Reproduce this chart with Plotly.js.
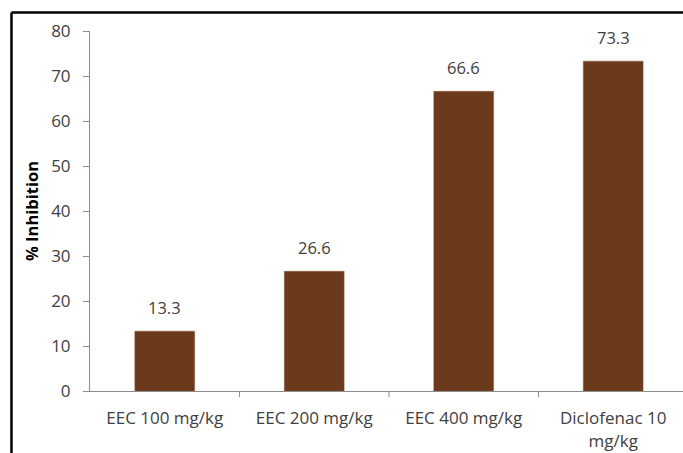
<!DOCTYPE html>
<html>
<head>
<meta charset="utf-8">
<script src="https://cdn.plot.ly/plotly-3.0.1.min.js"></script>
<style>
  html, body { margin: 0; padding: 0; background: #ffffff; }
  #chart { width: 683px; height: 453px; }
</style>
</head>
<body>
<div id="chart"></div>
<script>
// Data
const categories = ["EEC 100 mg/kg", "EEC 200 mg/kg", "EEC 400 mg/kg", "Diclofenac 10<br>mg/kg"];
const inhibition = [13.3, 26.6, 66.6, 73.3];
const valueLabels = ["13.3", "26.6", "66.6", "73.3"];
const yTicks = [0, 10, 20, 30, 40, 50, 60, 70, 80];

const fontFamily = "'Open Sans', 'Liberation Sans', sans-serif";

const trace = {
  type: "bar",
  x: [0, 1, 2, 3],
  y: inhibition,
  marker: {
    color: "#6b3a1c",
    line: { width: 0.5, color: "#8a5a33" }
  },
  hoverinfo: "none"
};

const annotations = inhibition.map((v, i) => ({
  x: i, y: v, xref: "x", yref: "y",
  text: valueLabels[i],
  showarrow: false,
  yanchor: "bottom",
  yshift: 10,
  font: { family: fontFamily, size: 16.5, color: "#404040" }
}));

// Outer frame (left and top edges visible in reference)
const frameColor = "#000000";
const shapes = [
  { type: "line", xref: "paper", yref: "paper", x0: -0.1324, x1: -0.1324, y0: -0.2, y1: 1.0514, line: { color: frameColor, width: 2.5 } },
  { type: "line", xref: "paper", yref: "paper", x0: -0.1324, x1: 1.05, y0: 1.0514, y1: 1.0514, line: { color: frameColor, width: 2.5 } }
];

// category boundary ticks on x axis
[0.5, 1.5, 2.5].forEach(b => {
  shapes.push({ type: "line", xref: "x", yref: "paper", x0: b, x1: b, y0: 0, y1: -0.017, line: { color: "#8c8c8c", width: 1 } });
});

const layout = {
  width: 683,
  height: 453,
  margin: { l: 90, r: 0, t: 31, b: 62 },
  paper_bgcolor: "#ffffff",
  plot_bgcolor: "#ffffff",
  showlegend: false,
  bargap: 0.6,
  xaxis: {
    range: [-0.5, 3.467],
    tickmode: "array",
    tickvals: [0, 1, 2, 3],
    ticktext: categories,
    showgrid: false,
    zeroline: false,
    showline: true,
    linecolor: "#8c8c8c",
    linewidth: 1,
    ticks: "",
    ticklabelstandoff: 12,
    tickfont: { family: fontFamily, size: 17, color: "#404040" }
  },
  yaxis: {
    range: [0, 80],
    tickmode: "array",
    tickvals: yTicks,
    ticktext: yTicks.map(String),
    showgrid: false,
    zeroline: false,
    showline: true,
    linecolor: "#8c8c8c",
    linewidth: 1,
    ticks: "outside",
    ticklen: 6,
    tickcolor: "#8c8c8c",
    ticklabelstandoff: 9,
    tickfont: { family: fontFamily, size: 17, color: "#404040" },
    title: { text: "<b>% Inhibition</b>", font: { family: fontFamily, size: 16.5, color: "#000000" }, standoff: 8 }
  },
  shapes: shapes,
  annotations: annotations
};

Plotly.newPlot("chart", [trace], layout, { staticPlot: true, displayModeBar: false });
</script>
</body>
</html>
